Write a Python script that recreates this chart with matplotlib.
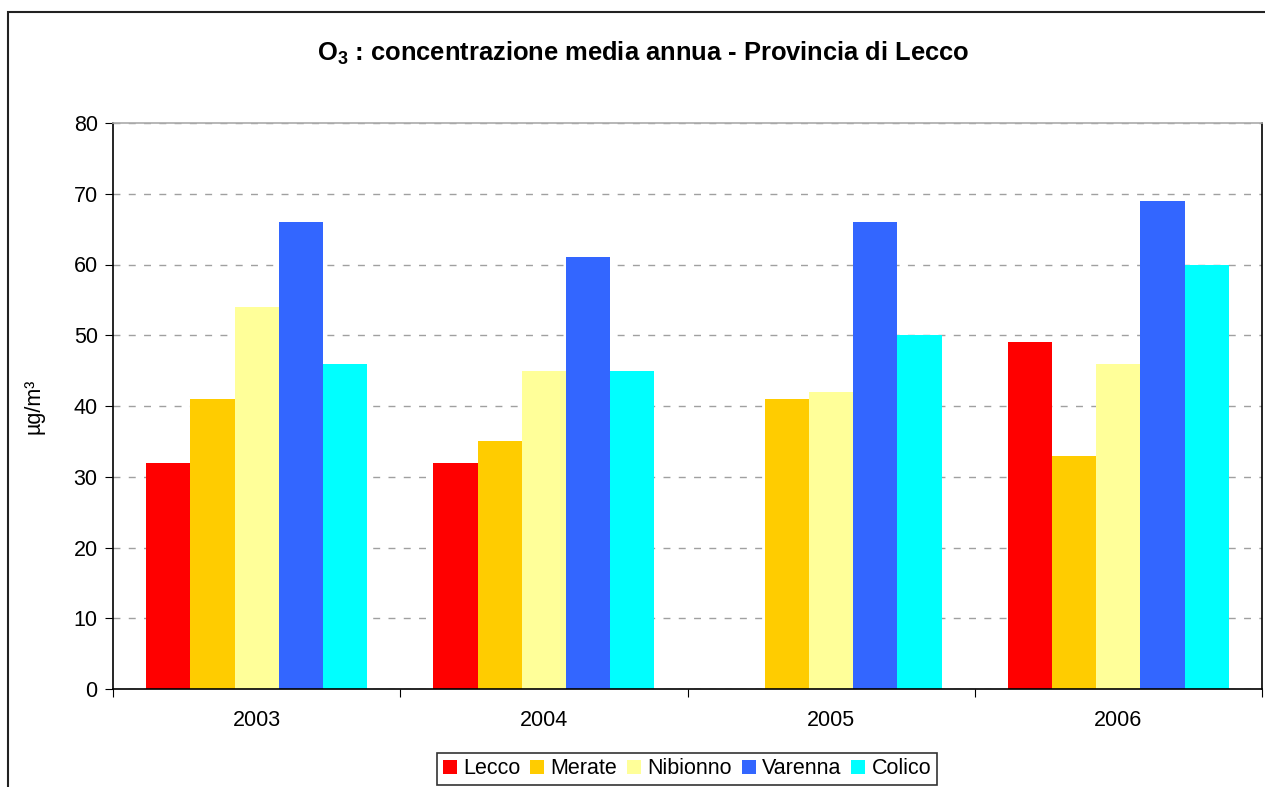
import numpy as np
import matplotlib
matplotlib.use("Agg")
import matplotlib.pyplot as plt
from matplotlib.patches import Rectangle

plt.rcParams['font.family'] = ['Liberation Sans', 'DejaVu Sans']
plt.rcParams['mathtext.fontset'] = 'custom'
plt.rcParams['mathtext.rm'] = 'Liberation Sans:bold'

years = ["2003", "2004", "2005", "2006"]
stations = ["Lecco", "Merate", "Nibionno", "Varenna", "Colico"]
lecco = [32, 32, np.nan, 49]
merate = [41, 35, 41, 33]
nibionno = [54, 45, 42, 46]
varenna = [66, 61, 66, 69]
colico = [46, 45, 50, 60]
colors = ["#FF0000", "#FFCC00", "#FFFF99", "#3366FF", "#00FFFF"]

series = [lecco, merate, nibionno, varenna, colico]

fig = plt.figure(figsize=(12.65, 7.87), dpi=100)
ax = fig.add_axes([113/1265, 1 - 689/787, (1262 - 113)/1265, (689 - 123)/787])

# outer chart frame
fig.patches.append(Rectangle((8/1265, -0.1), 1.2, 1 - 12/787 + 0.1,
                             transform=fig.transFigure, fill=False,
                             edgecolor="#222222", lw=1.5))

x = np.arange(len(years))
w = 0.154
for i, (vals, c, name) in enumerate(zip(series, colors, stations)):
    ax.bar(x + (i - 2) * w, vals, w, color=c, label=name, zorder=2)

ax.set_xlim(-0.5, 3.5)
ax.set_ylim(0, 80)
ax.set_yticks(range(0, 81, 10))
ax.tick_params(axis='y', labelsize=15.5, length=6, direction='out', pad=5)
ax.yaxis.grid(True, color="#a0a0a0", linestyle=(0, (5, 6)), lw=1)
ax.set_axisbelow(True)

ax.set_xticks([-0.5, 0.5, 1.5, 2.5, 3.5])
ax.set_xticklabels([])
ax.set_xticks(x, minor=True)
ax.set_xticklabels(years, minor=True)
ax.tick_params(axis='x', which='major', length=6, direction='out')
ax.tick_params(axis='x', which='minor', length=0, labelsize=15.5, pad=15)

for s in ["left", "bottom", "right"]:
    ax.spines[s].set_color("black")
    ax.spines[s].set_linewidth(1.2)
ax.spines["top"].set_color("#aaaaaa")
ax.spines["top"].set_linewidth(1.2)

ax.set_ylabel("µg/m³", fontsize=15.5)
ax.yaxis.set_label_coords((45 - 113) / 1149, 0.5)

fig.text(643/1265, 1 - 53/787, "O$_3$ : concentrazione media annua - Provincia di Lecco",
         ha="center", va="center", fontsize=18.4, fontweight="bold")

leg = fig.legend(loc="center", bbox_to_anchor=(687/1265, 1 - 769/787), ncol=5,
                 fontsize=15.5, frameon=True, fancybox=False, edgecolor="black",
                 handlelength=0.65, handleheight=0.65, handletextpad=0.3,
                 columnspacing=0.45, borderpad=0.25)
leg.get_frame().set_linewidth(1.2)

fig.savefig("out.png", dpi=100)
